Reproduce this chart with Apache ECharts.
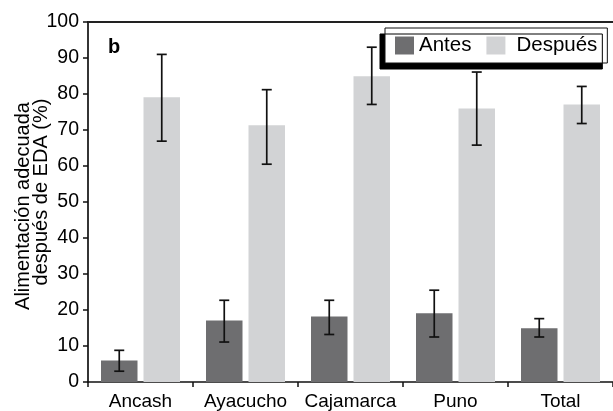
<!DOCTYPE html>
<html>
<head>
<meta charset="utf-8">
<script src="https://cdn.jsdelivr.net/npm/echarts@6/dist/echarts.min.js"></script>
<style>html,body{margin:0;padding:0;background:#fff;}#c{width:613px;height:411px;}</style>
</head>
<body>
<div id="c"></div>
<script>
const categories = ['Ancash', 'Ayacucho', 'Cajamarca', 'Puno', 'Total'];
const antes = [6.0, 17.1, 18.2, 19.1, 14.9];
const antesLow = [3.0, 11.1, 13.2, 12.5, 12.5];
const antesHigh = [8.8, 22.7, 22.7, 25.5, 17.6];
const despues = [79.1, 71.3, 84.9, 76.0, 77.1];
const despuesLow = [66.9, 60.5, 77.1, 65.8, 71.8];
const despuesHigh = [91.0, 81.2, 93.0, 86.1, 82.1];
const yTicks = [0, 10, 20, 30, 40, 50, 60, 70, 80, 90, 100];

const FONT = "'Liberation Sans', Arial, Helvetica, sans-serif";
const BAR_W = 36.5, BAR_GAP = 6;
const OFFSET = (BAR_W + BAR_GAP) / 2;

function errSeries(name, low, high, dir) {
  return {
    type: 'custom', name: name + ' err', xAxisIndex: 0, yAxisIndex: 0,
    silent: true, z: 5,
    data: categories.map((c, i) => [i, low[i], high[i]]),
    encode: { x: 0, y: [1, 2] },
    renderItem: function (params, api) {
      const i = api.value(0);
      const p1 = api.coord([i, api.value(1)]);
      const p2 = api.coord([i, api.value(2)]);
      const x = p1[0] + dir * OFFSET;
      const cap = 5;
      const st = { stroke: '#111', lineWidth: 1.7 };
      return { type: 'group', children: [
        { type: 'line', shape: { x1: x, y1: p1[1], x2: x, y2: p2[1] }, style: st },
        { type: 'line', shape: { x1: x - cap, y1: p1[1], x2: x + cap, y2: p1[1] }, style: st },
        { type: 'line', shape: { x1: x - cap, y1: p2[1], x2: x + cap, y2: p2[1] }, style: st }
      ]};
    }
  };
}

const chart = echarts.init(document.getElementById('c'), null, { renderer: 'canvas' });
chart.setOption({
  animation: false,
  backgroundColor: '#fff',
  textStyle: { fontFamily: FONT },
  grid: { left: 88, right: 0, top: 22, bottom: 29, containLabel: false },
  legend: {
    left: 385, top: 28,
    padding: [7, 10, 7, 10],
    icon: 'rect',
    itemWidth: 19, itemHeight: 18, itemGap: 15,
    backgroundColor: '#fff',
    borderColor: '#111', borderWidth: 1, borderRadius: 0,
    shadowColor: '#000', shadowBlur: 0, shadowOffsetX: -5, shadowOffsetY: 6,
    formatter: function (n) { return n === 'Después' ? '{b|' + n + '}' : '{a|' + n + '}'; },
    textStyle: {
      fontFamily: FONT, fontSize: 20.5, color: '#000',
      rich: {
        a: { fontFamily: FONT, fontSize: 20.5, color: '#000' },
        b: { fontFamily: FONT, fontSize: 20.5, color: '#000', padding: [0, 0, 0, 6] }
      }
    },
    data: [{ name: 'Antes', itemStyle: { color: '#6e6e70' } }, { name: 'Después', itemStyle: { color: '#d2d3d5' } }]
  },
  xAxis: [{
    type: 'category', data: categories, position: 'bottom',
    axisLine: { lineStyle: { color: '#111', width: 1.7 } },
    axisTick: { show: true, alignWithLabel: false, length: 5, lineStyle: { color: '#111', width: 1.5 } },
    axisLabel: { color: '#000', fontSize: 19, fontFamily: FONT, margin: 10, interval: 0 }
  }, {
    type: 'category', data: categories, position: 'top',
    axisLine: { show: true, lineStyle: { color: '#222', width: 2 } },
    axisTick: { show: false }, axisLabel: { show: false }
  }],
  yAxis: {
    type: 'value', min: yTicks[0], max: yTicks[yTicks.length - 1], interval: 10,
    axisLine: { show: true, lineStyle: { color: '#111', width: 1.7 } },
    axisTick: { show: true, length: 5, lineStyle: { color: '#111', width: 1.5 } },
    axisLabel: { color: '#000', fontSize: 19.5, fontFamily: FONT, margin: 9 },
    splitLine: { show: false }
  },
  graphic: [
    { type: 'text', x: 23, y: 206, rotation: Math.PI / 2,
      style: { text: 'Alimentación adecuada', font: '20px ' + FONT, fill: '#000', align: 'center', verticalAlign: 'middle' } },
    { type: 'text', x: 41, y: 192, rotation: Math.PI / 2,
      style: { text: 'después de EDA (%)', font: '20px ' + FONT, fill: '#000', align: 'center', verticalAlign: 'middle' } },
    { type: 'text', left: 108, top: 37,
      style: { text: 'b', font: 'bold 20px ' + FONT, fill: '#000' } }
  ],
  series: [
    { name: 'Antes', type: 'bar', data: antes, barWidth: BAR_W, barGap: (BAR_GAP / BAR_W * 100) + '%',
      itemStyle: { color: '#6e6e70' } },
    { name: 'Después', type: 'bar', data: despues, barWidth: BAR_W,
      itemStyle: { color: '#d2d3d5' } },
    errSeries('Antes', antesLow, antesHigh, -1),
    errSeries('Después', despuesLow, despuesHigh, 1)
  ]
});
</script>
</body>
</html>
